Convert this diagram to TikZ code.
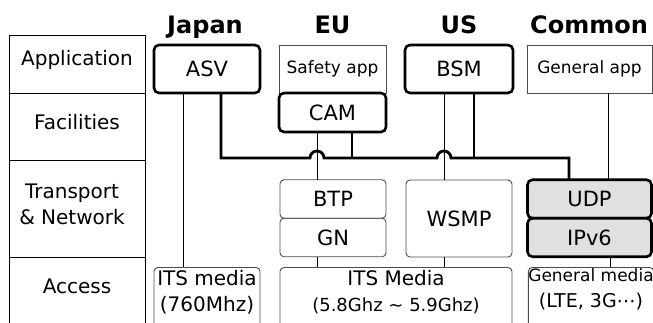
\documentclass[tikz,border=0pt]{standalone}
\usepackage{fontspec}
\setmainfont{DejaVu Sans}
\usetikzlibrary{positioning}

\tikzset{
  lbl/.style={font=\fontsize{20}{26}\selectfont},
  region/.style={font=\bfseries\fontsize{24}{28}\selectfont,anchor=base},
  msgbox/.style={draw,line width=2.6pt,rounded corners=5pt,outer sep=0pt,inner sep=0pt,minimum width=106pt,minimum height=48pt,font=\fontsize{21}{26}\selectfont},
  appbox/.style={draw=black!70,line width=0.9pt,outer sep=0pt,inner sep=0pt,minimum height=48pt,font=\fontsize{17}{22}\selectfont},
  protobox/.style={draw=black!70,line width=0.9pt,rounded corners=4pt,outer sep=0pt,inner sep=0pt,minimum width=106pt,minimum height=38.5pt,font=\fontsize{21}{26}\selectfont},
  ipbox/.style={draw,fill=black!12,line width=2.6pt,rounded corners=5pt,outer sep=0pt,inner sep=0pt,minimum width=124pt,minimum height=38.5pt,font=\fontsize{21}{26}\selectfont},
  mediabox/.style={draw=black!70,line width=0.9pt,rounded corners=4pt,anchor=north,align=center,inner xsep=0pt,inner ysep=3pt,text depth=40pt,font=\fontsize{20}{26}\selectfont},
  bus/.style={line width=2.8pt},
  link/.style={line width=0.9pt}
}

\begin{document}
\begin{tikzpicture}[x=1pt,y=-1pt]
\useasboundingbox (0,0) rectangle (653,322);
\clip (0,0) rectangle (653,322);

\draw[link] (9,35) rectangle (145,340);
\foreach \y in {93,160,257}
  \draw[link] (9,\y) -- (145,\y);
\node[lbl,anchor=base] (lapp) at (77,65) {Application};
\node[lbl,anchor=base] (lfac) at (77,129) {Facilities};
\node[lbl,align=center] (ltn) at (72,204) {Transport\\\& Network};
\node[lbl,anchor=base] (lacc) at (77,293) {Access};

\node[region] (hjp) at (205,33) {Japan};
\node[region] (heu) at (332.5,33) {EU};
\node[region] (hus) at (459,33) {US};
\node[region] (hcom) at (589,33) {Common};

\node[msgbox] (asv) at (207,69) {ASV};
\node[appbox,minimum width=107pt] (safety) at (332.5,69) {Safety app};
\node[msgbox,minimum width=107pt,minimum height=39pt,below=0pt of safety] (cam) {CAM};
\node[msgbox,minimum width=108pt] (bsm) at (459,69) {BSM};
\node[appbox,minimum width=125pt] (genapp) at (589.5,69) {General app};

\node[protobox] (btp) at (333,199) {BTP};
\node[protobox,below=0pt of btp] (gn) {GN};
\node[protobox,minimum height=77pt] (wsmp) at (459,218.5) {WSMP};
\node[ipbox] (udp) at (589.5,199) {UDP};
\node[ipbox,below=0pt of udp] (ipv) {IPv6};

\node[mediabox,minimum width=106pt] (itsjp) at (207,267) {ITS media\\(760Mhz)};
\node[mediabox,minimum width=232pt] (itseu) at (396,267) {ITS Media\\{\fontsize{18}{26}\selectfont(5.8Ghz \textasciitilde{} 5.9Ghz)}};
\node[mediabox,minimum width=124pt,inner ysep=1pt] (genmedia) at (591,267) {{\fontsize{17}{26}\selectfont General media}\\{\fontsize{19}{26}\selectfont(LTE, 3G⋯)}};

\draw[link] ([xshift=-24pt]asv.south) -- ([xshift=-24pt]itsjp.north);
\draw[link] ([xshift=-15.5pt]cam.south) -- ([xshift=-16pt]btp.north);
\draw[link] ([xshift=-15pt]bsm.south) -- ([xshift=-15pt]wsmp.north);
\draw[link] ([xshift=18.5pt]genapp.south) -- ([xshift=18.5pt]udp.north);
\draw[link] ([xshift=-16pt]gn.south) -- ([xshift=-16pt]gn.south |- itseu.north);
\draw[link] ([xshift=-15pt]wsmp.south) -- ([xshift=-15pt]wsmp.south |- itseu.north);
\draw[link] ([xshift=20.5pt]ipv.south) -- ([xshift=20.5pt]ipv.south |- genmedia.north);

\coordinate (busy) at (0,158);
\draw[bus] ([xshift=14pt]asv.south) |- ([xshift=-22.5pt]cam.south |- busy)
  arc[start angle=180,end angle=0,radius=7pt] -- ([xshift=-22pt]bsm.south |- busy)
  arc[start angle=180,end angle=0,radius=7pt] -| ([xshift=-20.5pt]udp.north);
\draw[bus] ([xshift=19.5pt]cam.south) -- ([xshift=19.5pt]cam.south |- busy);
\draw[bus] ([xshift=15pt]bsm.south) -- ([xshift=15pt]bsm.south |- busy);
\end{tikzpicture}
\end{document}
